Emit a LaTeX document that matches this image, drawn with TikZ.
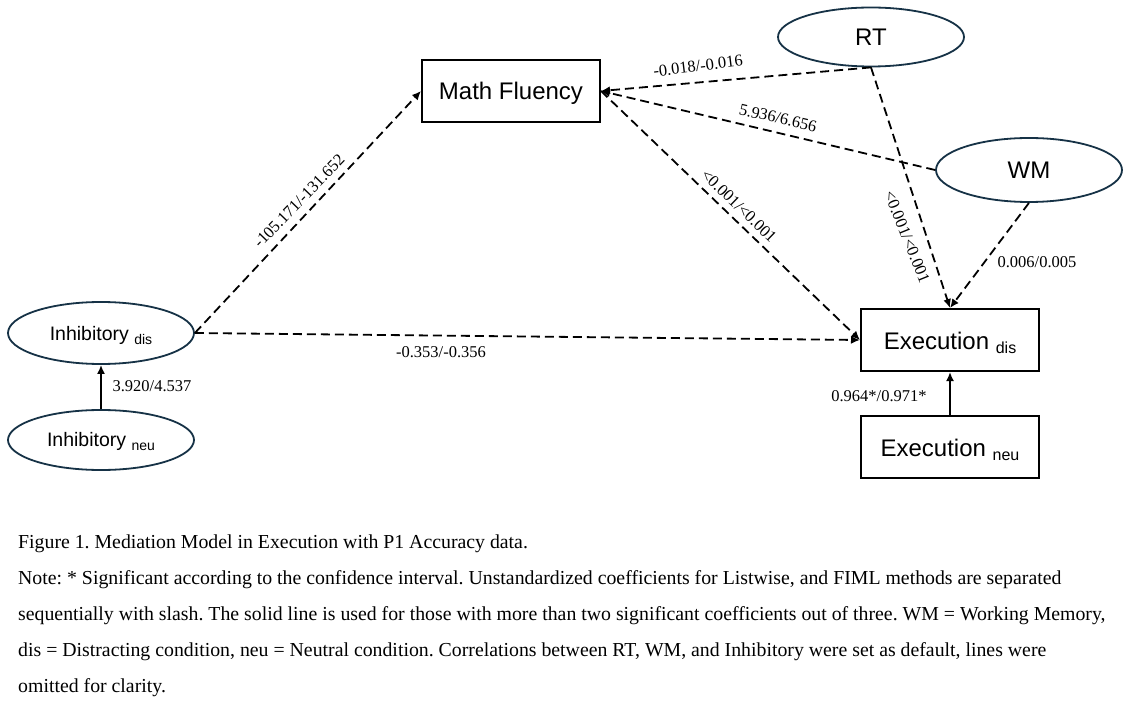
\documentclass[tikz,border=0pt]{standalone}
\usepackage{fontspec}
\setmainfont{Liberation Serif}
\newfontfamily\nodefont{Liberation Sans}
\usetikzlibrary{arrows.meta,shapes.geometric}
\definecolor{ellcol}{RGB}{22,50,70}
\newcommand{\subdis}[1]{{\fontsize{14}{14}\selectfont\raisebox{-4pt}[0pt][0pt]{#1}}}
\newcommand{\subexe}[1]{{\fontsize{16}{16}\selectfont\raisebox{-4pt}[0pt][0pt]{#1}}}
\frenchspacing
\begin{document}
\begin{tikzpicture}[x=1pt,y=-1pt,
 ell/.style={ellipse, draw=ellcol, line width=1.8pt, minimum width=186pt, minimum height=60pt, inner sep=0pt, text height=22pt, text depth=4pt, font=\nodefont\fontsize{24}{28}\selectfont},
 ellsm/.style={ell, font=\nodefont\fontsize{19.5}{22}\selectfont},
 boxn/.style={rectangle, draw=black, line width=2pt, minimum width=178pt, minimum height=62pt, inner sep=0pt, text height=22pt, text depth=4pt, font=\nodefont\fontsize{24}{28}\selectfont},
 dpath/.style={line width=1.8pt, dash pattern=on 9pt off 5pt, -{Latex[length=9pt,width=8pt]}},
 spath/.style={line width=1.8pt, -{Latex[length=9pt,width=8pt]}},
 lab/.style={font=\fontsize{16.5}{18}\selectfont, inner sep=0pt},
 captext/.style={font=\fontsize{19.8}{22}\selectfont, anchor=base west, inner sep=0pt}]
\fill[white] (0,0) rectangle (1127,703);
\useasboundingbox (0,0) rectangle (1127,703);

% nodes
\node[boxn] (mf) at (511,91) {Math Fluency};
\node[ell, minimum height=59pt] (rt) at (871,37) {RT};
\node[ell, minimum height=64pt] (wm) at (1029,170) {WM};
\node[ellsm, minimum height=62pt, text height=20pt, text depth=4pt] (idis) at (101,333) {Inhibitory \subdis{dis}};
\node[ellsm, minimum height=60pt, text height=16pt, text depth=4pt] (ineu) at (101,440) {Inhibitory \subdis{neu}};
\node[boxn] (edis) at (950,340) {Execution \subexe{dis}};
\node[boxn] (eneu) at (950,447) {Execution \subexe{neu}};

% connectors
\draw[dpath] (idis.east) -- (mf.west);
\draw[dpath] (idis.east) -- (edis.west);
\draw[dpath] (mf.east) -- (edis.west);
\draw[dpath] (rt.south) -- (mf.east);
\draw[dpath] (wm.west) -- (mf.east);
\draw[dpath] (rt.south) -- (edis.north);
\draw[dpath] (wm.south) -- (edis.north);
\draw[spath] (ineu.north) -- (idis.south);
\draw[spath] (eneu.north) -- (edis.south);

% labels
\node[lab, rotate=46] (l1) at (299,201) {-105.171/-131.652};
\node[lab, rotate=7] (l2) at (698,66) {-0.018/-0.016};
\node[lab, rotate=-13] (l3) at (778,118) {5.936/6.656};
\node[lab, rotate=-44] (l4) at (739,206) {<0.001/<0.001};
\node[lab, rotate=-68] (l5) at (907,237) {<0.001/<0.001};
\node[lab] (l6) at (1037,262) {0.006/0.005};
\node[lab] (l7) at (441,352) {-0.353/-0.356};
\node[lab] (l8) at (152,386) {3.920/4.537};
\node[lab] (l9) at (879,396) {0.964*/0.971*};

% caption
\node[captext] (c1) at (18,548) {Figure 1. Mediation Model in Execution with P1 Accuracy data.};
\node[captext] (c2) at (18,584) {Note: * Significant according to the confidence interval. Unstandardized coefficients for Listwise, and FIML methods are separated};
\node[captext] (c3) at (18,620) {sequentially with slash. The solid line is used for those with more than two significant coefficients out of three. WM = Working Memory,};
\node[captext] (c4) at (18,656) {dis = Distracting condition, neu = Neutral condition. Correlations between RT, WM, and Inhibitory were set as default, lines were};
\node[captext] (c5) at (18,692) {omitted for clarity.};
\end{tikzpicture}
\end{document}
